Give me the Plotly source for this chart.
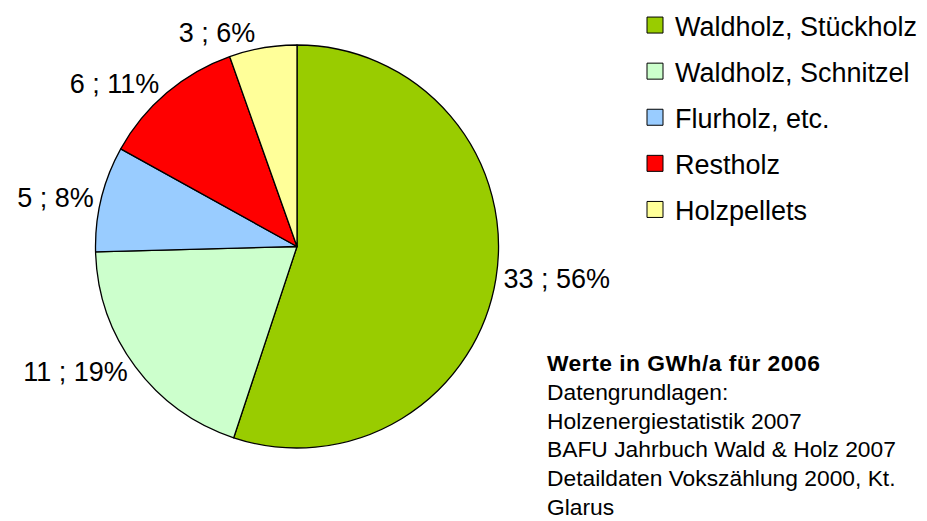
import plotly.graph_objects as go

categories = ["Waldholz, Stückholz", "Waldholz, Schnitzel", "Flurholz, etc.", "Restholz", "Holzpellets"]
values = [32.5, 11.5, 5.0, 6.8, 3.2]
label_text = ["33 ; 56%", "11 ; 19%", "5 ; 8%", "6 ; 11%", "3 ; 6%"]
colors = ["#99CC00", "#CCFFCC", "#99CCFF", "#FF0000", "#FFFF99"]

note_title = "Werte in GWh/a für 2006"
note_lines = ["Datengrundlagen:", "Holzenergiestatistik 2007",
              "BAFU Jahrbuch Wald & Holz 2007", "Detaildaten Vokszählung 2000, Kt.", "Glarus"]

W, H = 927, 521
FONT = "Arial, Liberation Sans, sans-serif"

fig = go.Figure()
fig.add_trace(go.Pie(
    labels=categories, values=values, text=label_text,
    textinfo="text", textposition="outside",
    textfont=dict(family=FONT, size=27, color="#000000"),
    marker=dict(colors=colors, line=dict(color="#000000", width=1.3)),
    sort=False, direction="clockwise", rotation=0,
    showlegend=False, hoverinfo="label+value",
    domain=dict(x=[95.5 / W, 498.5 / W], y=[1 - 448 / H, 1 - 45 / H]),
))

for i, (c, col) in enumerate(zip(categories, colors)):
    fig.add_trace(go.Scatter(
        x=[None], y=[None], mode="markers", name=c, legendgroup=f"g{i}",
        marker=dict(symbol="square", size=16, color=col, line=dict(color="#000000", width=1)),
    ))

all_lines = ['<b><span style="letter-spacing:0.5px">' + note_title + "</span></b>"] + note_lines
line_gap = 28.8
first_center = 363
for k, ln in enumerate(all_lines):
    fig.add_annotation(
        xref="paper", yref="paper", x=545 / W, y=1 - (first_center + k * line_gap) / H,
        xanchor="left", yanchor="middle",
        text=ln, showarrow=False, align="left",
        font=dict(family=FONT, size=22.8, color="#000000"),
    )

fig.update_layout(
    width=W, height=H,
    margin=dict(l=0, r=0, t=0, b=0),
    paper_bgcolor="#FFFFFF", plot_bgcolor="#FFFFFF",
    xaxis=dict(visible=False), yaxis=dict(visible=False),
    legend=dict(
        x=635 / W, y=1 - 1 / H, xanchor="left", yanchor="top",
        font=dict(family=FONT, size=27, color="#000000"),
        tracegroupgap=8, bgcolor="rgba(0,0,0,0)",
    ),
)

fig.write_html("out.html", config={"displayModeBar": False},
               post_script="document.body.style.margin='0';document.body.style.padding='0';")
